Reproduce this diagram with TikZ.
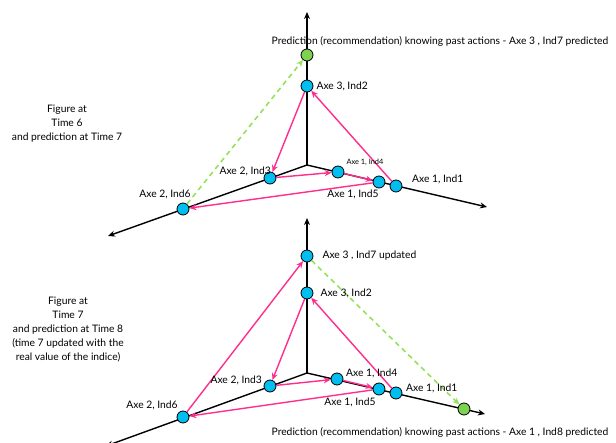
\documentclass[tikz,border=0pt]{standalone}
\usepackage{fontspec}
\setmainfont{Lato}
\usetikzlibrary{arrows.meta,positioning}
\definecolor{indblue}{RGB}{0,190,240}
\definecolor{predgreen}{RGB}{125,210,80}
\definecolor{dashgreen}{RGB}{150,225,90}
\definecolor{movepink}{RGB}{255,45,140}
\tikzset{axis/.style={black,line width=1.4pt,-{Stealth[length=7pt,width=6pt]}},
  ind/.style={circle,draw=black,fill=indblue,line width=0.8pt,minimum size=12pt,inner sep=0pt},
  pred/.style={ind,fill=predgreen},
  move/.style={movepink,line width=1.4pt,-{Stealth[length=7pt,width=6pt]}},
  guess/.style={dashgreen,line width=1.6pt,dash pattern=on 5pt off 4pt,-{Stealth[length=7pt,width=6pt]}},
  lbl/.style={font=\fontsize{10.3}{11}\selectfont,inner sep=1pt},
  small/.style={font=\fontsize{7.4}{8}\selectfont,inner sep=1pt},
  note/.style={font=\fontsize{10.3}{14}\selectfont,align=center}}

\begin{document}
\begin{tikzpicture}[x=1pt,y=-1pt]
   \useasboundingbox (0,0) rectangle (616,442);
   % time 6
   \begin{scope}
    \coordinate (tO) at (307,165);
    \coordinate (tUp) at (307,12);
    \coordinate (tRight) at (487,207);
    \coordinate (tLeft) at (108,236);
    \draw[axis] (tO) -- (tUp);
    \draw[axis] (tO) -- (tRight);
    \draw[axis] (tO) -- (tLeft);
    \node[ind] (tInd1) at (396,186) {};
    \node[ind] (tInd2) at (307,86) {};
    \node[ind] (tInd3) at (270,178) {};
    \node[ind] (tInd4) at (338,172) {};
    \node[ind] (tInd5) at (379,182) {};
    \node[ind] (tInd6) at (183,209) {};
    \node[pred] (tPred) at (307,55) {};
    \draw[move] (tInd1) -- (tInd2);
    \draw[move] (tInd2) -- (tInd3);
    \draw[move] (tInd3) -- (tInd4);
    \draw[move] (tInd4) -- (tInd5);
    \draw[move] (tInd5) -- (tInd6);
    \draw[guess] (tInd6) -- (tPred);
    \node[lbl] (tPredTxt) at (440,41) {Prediction (recommendation) knowing past actions - Axe 3 , Ind7 predicted};
    \node[lbl,right=2pt of tInd2] (tTxt2) {Axe 3, Ind2};
    \node[lbl,anchor=east] (tTxt3) at (272,171) {Axe 2, Ind3};
    \node[small] (tTxt4) at (365,162) {Axe 1, Ind4};
    \node[lbl,anchor=west] (tTxt1) at (411,179) {Axe 1, Ind1};
    \node[lbl] (tTxt5) at (353,194) {Axe 1, Ind5};
    \node[lbl] (tTxt6) at (165,194) {Axe 2, Ind6};
    \node[note] (tNote) at (67,124) {Figure at\\Time 6\\and prediction at Time 7};
   \end{scope}
   % time 7
   \begin{scope}
    \coordinate (bO) at (307,373);
    \coordinate (bUp) at (307,218);
    \coordinate (bRight) at (485,414);
    \coordinate (bLeft) at (106,446);
    \draw[axis] (bO) -- (bUp);
    \draw[axis] (bO) -- (bRight);
    \draw[axis] (bO) -- (bLeft);
    \node[ind] (bInd1) at (396,393) {};
    \node[ind] (bInd2) at (307,293) {};
    \node[ind] (bInd3) at (270,386) {};
    \node[ind] (bInd4) at (337,379) {};
    \node[ind] (bInd5) at (379,389) {};
    \node[ind] (bInd6) at (183,417) {};
    \node[ind] (bInd7) at (307,256) {};
    \node[pred] (bPred) at (464,409) {};
    \draw[move] (bInd1) -- (bInd2);
    \draw[move] (bInd2) -- (bInd3);
    \draw[move] (bInd3) -- (bInd4);
    \draw[move] (bInd4) -- (bInd5);
    \draw[move] (bInd5) -- (bInd6);
    \draw[move] (bInd6) -- (bInd7);
    \draw[guess] (bInd7) -- (bPred);
    \node[lbl,right=8pt of bInd7] (bTxt7) {Axe 3 , Ind7 updated};
    \node[lbl,right=6pt of bInd2] (bTxt2) {Axe 3, Ind2};
    \node[lbl,anchor=east] (bTxt3) at (263,380) {Axe 2, Ind3};
    \node[lbl,anchor=west] (bTxt4) at (345,373) {Axe 1, Ind4};
    \node[lbl,anchor=west] (bTxt1) at (405,388) {Axe 1, Ind1};
    \node[lbl] (bTxt5) at (350,402) {Axe 1, Ind5};
    \node[lbl] (bTxt6) at (152,405) {Axe 2, Ind6};
    \node[lbl] (bPredTxt) at (440,432) {Prediction (recommendation) knowing past actions - Axe 1 , Ind8 predicted};
    \node[note] (bNote) at (68,329) {Figure at\\Time 7\\and prediction at Time 8\\(time 7 updated with the\\real value of the indice)};
   \end{scope}
  \end{tikzpicture}
\end{document}
